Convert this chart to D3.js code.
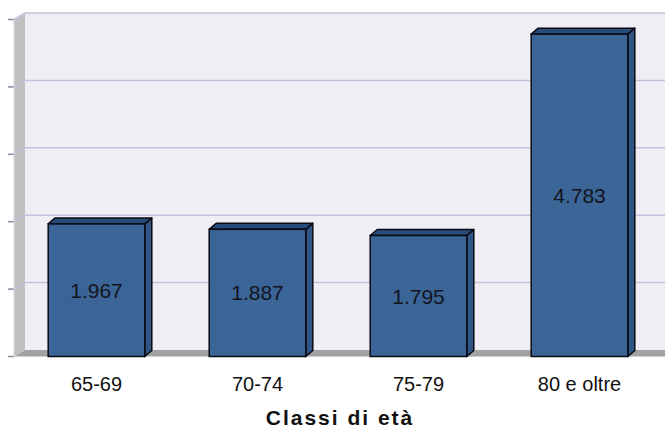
<!DOCTYPE html>
<html lang="it">
<head>
    <meta charset="UTF-8">
    <script src="https://d3js.org/d3.v7.min.js"></script>
    <title>Classi di età</title>
    <style>
        body { margin: 0; background: #ffffff; }
        text { font-family: "Liberation Sans", Arial, sans-serif; }
    </style>
</head>
<body>
<div id="draw_here"></div>

<script type="text/javascript">

    var categories = ["65-69", "70-74", "75-79", "80 e oltre"];
    var values = [1967, 1887, 1795, 4783];
    var yTicks = [0, 1000, 2000, 3000, 4000, 5000];
    var axisTitle = "Classi di età";

    var width = 665;
    var height = 430;

    // 3d offsets
    var wallDx = 11, wallDy = -6.5;
    var barDx = 7, barDy = -6;

    var frontLeft = 14;
    var backLeft = frontLeft + wallDx;

    var it = d3.formatLocale({decimal: ",", thousands: ".", grouping: [3], currency: ["€", ""]});
    var fmt = it.format(",d");

    var x = d3.scaleBand()
        .domain(categories)
        .range([16, 660])
        .paddingInner(0.4)
        .paddingOuter(0.2);

    var y = d3.scaleLinear()
        .domain([0, 5000])
        .range([356.5, 19.5]);

    var svg = d3.select("#draw_here")
        .append("svg")
        .attr("width", width)
        .attr("height", height);

    // back wall
    svg.append("rect")
        .attr("x", backLeft)
        .attr("y", y(5000) + wallDy)
        .attr("width", width - backLeft)
        .attr("height", y(0) - y(5000))
        .attr("fill", "#efeef4");

    // left wall
    svg.append("polygon")
        .attr("points", [
            [frontLeft, y(5000)], [backLeft, y(5000) + wallDy],
            [backLeft, y(0) + wallDy], [frontLeft, y(0)]
        ].join(" "))
        .attr("fill", "#c0c0c0");

    // floor
    svg.append("polygon")
        .attr("points", [
            [frontLeft, y(0)], [backLeft, y(0) + wallDy],
            [width, y(0) + wallDy], [width, y(0)]
        ].join(" "))
        .attr("fill", "#a2a2a2");

    // gridlines + diagonals + ticks
    var grid = svg.append("g");
    grid.selectAll("line.grid")
        .data(yTicks.filter(d => d > 0))
        .join("line")
        .attr("class", "grid")
        .attr("x1", backLeft)
        .attr("x2", width)
        .attr("y1", d => y(d) + wallDy)
        .attr("y2", d => y(d) + wallDy)
        .attr("stroke", "#c2c2dc")
        .attr("stroke-width", 1.5);

    grid.selectAll("line.diag")
        .data(yTicks.filter(d => d > 0))
        .join("line")
        .attr("class", "diag")
        .attr("x1", frontLeft)
        .attr("x2", backLeft)
        .attr("y1", d => y(d))
        .attr("y2", d => y(d) + wallDy)
        .attr("stroke", "#c2c2dc")
        .attr("stroke-width", 1.5);

    grid.selectAll("line.tick")
        .data(yTicks)
        .join("line")
        .attr("class", "tick")
        .attr("x1", 8)
        .attr("x2", frontLeft)
        .attr("y1", d => y(d))
        .attr("y2", d => y(d))
        .attr("stroke", "#8a8a9a")
        .attr("stroke-width", 1.5);

    grid.append("line")
        .attr("x1", frontLeft).attr("x2", frontLeft)
        .attr("y1", y(5000)).attr("y2", y(0))
        .attr("stroke", "#d8d8d8")
        .attr("stroke-width", 1);

    // bars
    var data = categories.map((c, i) => ({cat: c, value: values[i]}));
    var w = x.bandwidth();

    var bars = svg.append("g")
        .selectAll("g")
        .data(data)
        .join("g");

    bars.append("polygon")
        .attr("points", d => [
            [x(d.cat) + w, y(d.value)], [x(d.cat) + w + barDx, y(d.value) + barDy],
            [x(d.cat) + w + barDx, y(0) + barDy], [x(d.cat) + w, y(0)]
        ].join(" "))
        .attr("fill", "#2f5585")
        .attr("stroke", "#0a0a14")
        .attr("stroke-width", 1.5)
        .attr("stroke-linejoin", "round");

    bars.append("polygon")
        .attr("points", d => [
            [x(d.cat), y(d.value)], [x(d.cat) + barDx, y(d.value) + barDy],
            [x(d.cat) + w + barDx, y(d.value) + barDy], [x(d.cat) + w, y(d.value)]
        ].join(" "))
        .attr("fill", "#284c7a")
        .attr("stroke", "#0a0a14")
        .attr("stroke-width", 1.5)
        .attr("stroke-linejoin", "round");

    bars.append("rect")
        .attr("x", d => x(d.cat))
        .attr("y", d => y(d.value))
        .attr("width", w)
        .attr("height", d => y(0) - y(d.value))
        .attr("fill", "#3b6596")
        .attr("stroke", "#0a0a14")
        .attr("stroke-width", 1.5);

    bars.append("text")
        .attr("x", d => x(d.cat) + w / 2)
        .attr("y", d => (y(d.value) + y(0)) / 2 + 7.5)
        .attr("text-anchor", "middle")
        .attr("font-size", 21)
        .attr("fill", "#141420")
        .text(d => fmt(d.value));

    // category labels
    svg.append("g")
        .selectAll("text")
        .data(categories)
        .join("text")
        .attr("x", d => x(d) + w / 2)
        .attr("y", 391)
        .attr("text-anchor", "middle")
        .attr("font-size", 20)
        .attr("fill", "#111")
        .text(d => d);

    svg.append("text")
        .attr("x", 340)
        .attr("y", 425)
        .attr("text-anchor", "middle")
        .attr("font-size", 21)
        .attr("font-weight", "bold")
        .attr("letter-spacing", 2)
        .attr("fill", "#111")
        .text(axisTitle);

</script>
</body>
</html>
